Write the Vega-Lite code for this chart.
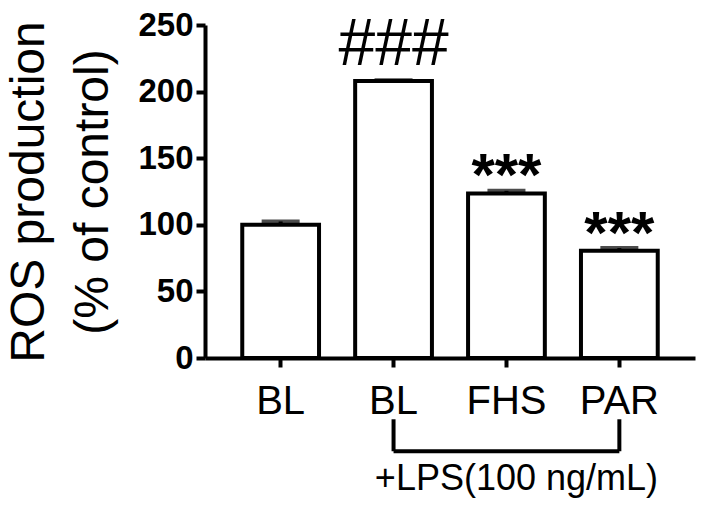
{
  "$schema": "https://vega.github.io/schema/vega-lite/v6.json",
  "width": 490,
  "height": 333,
  "autosize": {"type": "none"},
  "padding": {"left": 205, "top": 25, "right": 25, "bottom": 147},
  "background": "white",
  "config": {
    "view": {"stroke": null},
    "font": "Liberation Sans",
    "axis": {"grid": false, "domainColor": "black", "tickColor": "black", "labelColor": "black", "titleColor": "black"}
  },
  "datasets": {
    "bars": [
      {"group": "BL", "value": 100, "upper": 102.5, "sig": ""},
      {"group": "LPS_BL", "value": 208, "upper": 208.5, "sig": "###"},
      {"group": "LPS_FHS", "value": 123.5, "upper": 125.5, "sig": "***"},
      {"group": "LPS_PAR", "value": 80.5, "upper": 82.5, "sig": "***"}
    ],
    "bracket": [
      {"group": "LPS_BL", "group2": "LPS_BL", "value": -46, "value2": -70},
      {"group": "LPS_PAR", "group2": "LPS_PAR", "value": -46, "value2": -70},
      {"group": "LPS_BL", "group2": "LPS_PAR", "value": -70, "value2": -70}
    ],
    "notes": [
      {"group": "LPS_FHS", "value": -99, "text": "+LPS(100 ng/mL)"}
    ]
  },
  "encoding": {
    "x": {
      "field": "group", "type": "nominal",
      "scale": {"domain": ["BL", "LPS_BL", "LPS_FHS", "LPS_PAR"], "paddingInner": 0.32, "paddingOuter": 0.33},
      "axis": {
        "title": null, "labelAngle": 0, "labelExpr": "replace(datum.value, 'LPS_', '')",
        "labelFontSize": 40, "labelPadding": 14, "domainWidth": 4, "tickWidth": 4, "tickSize": 9
      }
    },
    "y": {
      "field": "value", "type": "quantitative",
      "scale": {"domain": [0, 250], "nice": false},
      "axis": {
        "title": ["ROS production", "(% of control)"],
        "values": [0, 50, 100, 150, 200, 250],
        "labelFontSize": 33, "labelFontWeight": "bold", "labelPadding": 3,
        "domainWidth": 4, "tickWidth": 4, "tickSize": 9,
        "titleFontSize": 48, "titleFontWeight": "normal", "titleLineHeight": 64, "titlePadding": 20
      }
    }
  },
  "layer": [
    {
      "data": {"name": "bars"},
      "mark": {"type": "bar", "fill": "white", "stroke": "black", "strokeWidth": 4}
    },
    {
      "data": {"name": "bars"},
      "mark": {"type": "rule", "color": "black", "strokeWidth": 4},
      "encoding": {"y2": {"field": "upper"}}
    },
    {
      "data": {"name": "bars"},
      "mark": {"type": "tick", "color": "black", "size": 38, "thickness": 4},
      "encoding": {
        "y": {"field": "upper", "type": "quantitative", "title": ["ROS production", "(% of control)"]}
      }
    },
    {
      "data": {"name": "bars"},
      "transform": [{"filter": "datum.sig == '###'"}],
      "mark": {"type": "text", "fontSize": 66, "baseline": "alphabetic", "dy": -16, "color": "black"},
      "encoding": {"text": {"field": "sig"}}
    },
    {
      "data": {"name": "bars"},
      "transform": [{"filter": "datum.sig == '***'"}],
      "mark": {"type": "text", "fontSize": 60, "fontWeight": "bold", "baseline": "alphabetic", "dy": 2, "color": "black"},
      "encoding": {"text": {"field": "sig"}}
    },
    {
      "data": {"name": "bracket"},
      "mark": {"type": "rule", "color": "black", "strokeWidth": 4},
      "encoding": {
        "x2": {"field": "group2"},
        "y2": {"field": "value2"}
      }
    },
    {
      "data": {"name": "notes"},
      "mark": {"type": "text", "fontSize": 36, "baseline": "alphabetic", "dx": 10, "color": "black"},
      "encoding": {"text": {"field": "text"}}
    }
  ]
}
